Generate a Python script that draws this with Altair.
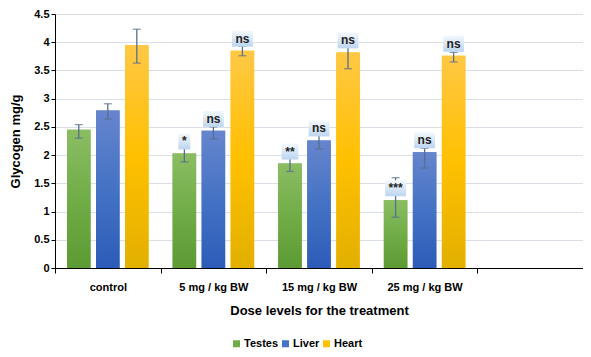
import altair as alt
import pandas as pd

categories = ["control", "5 mg / kg BW", "15 mg / kg BW", "25 mg / kg BW", " "]
series = ["Testes", "Liver", "Heart"]
testes = [2.45, 2.03, 1.85, 1.20]
liver = [2.79, 2.43, 2.26, 2.05]
heart = [3.95, 3.85, 3.82, 3.76]
testes_lo = [2.30, 1.88, 1.71, 0.90]
testes_hi = [2.54, 2.12, 1.95, 1.60]
liver_lo = [2.64, 2.29, 2.11, 1.77]
liver_hi = [2.91, 2.50, 2.36, 2.12]
heart_lo = [3.63, 3.76, 3.53, 3.65]
heart_hi = [4.23, 3.93, 4.05, 3.82]
sig_testes = ["", "*", "**", "***"]
sig_liver = ["", "ns", "ns", "ns"]
sig_heart = ["", "ns", "ns", "ns"]
y_ticks = [0, 0.5, 1, 1.5, 2, 2.5, 3, 3.5, 4, 4.5]

rows = []
for s, vals, lo, hi, sig in [
    ("Testes", testes, testes_lo, testes_hi, sig_testes),
    ("Liver", liver, liver_lo, liver_hi, sig_liver),
    ("Heart", heart, heart_lo, heart_hi, sig_heart),
]:
    for i, c in enumerate(categories[:4]):
        rows.append({"cat": c, "series": s, "value": vals[i], "lo": lo[i], "hi": hi[i], "sig": sig[i]})
df = pd.DataFrame(rows)

flat = ["#70ad47", "#4472c4", "#ffc000"]
grads = {
    "Testes": ["#8bbd63", "#70ad47", "#5c9a33"],
    "Liver": ["#6685cd", "#4472c4", "#2c5cb8"],
    "Heart": ["#ffc845", "#ffc000", "#e2b000"],
}

FONT = "Liberation Sans"

x = alt.X("cat:N", scale=alt.Scale(domain=categories, paddingInner=0, paddingOuter=0),
          axis=alt.Axis(title="Dose levels for the treatment", labelAngle=0, tickBand="extent",
                        labelFont=FONT, labelFontSize=11, labelFontWeight="bold", labelColor="black",
                        titleFont=FONT, titleFontSize=13, titleFontWeight="bold", titleColor="black",
                        titlePadding=12, labelPadding=8, tickSize=5, tickColor="black",
                        domainColor="black", grid=False))
xo = alt.XOffset("series:N", scale=alt.Scale(domain=series, paddingInner=0.19, paddingOuter=0.415))
yscale = alt.Scale(domain=[0, 4.5], nice=False)
yaxis = alt.Axis(title="Glycogen mg/g", values=y_ticks, format="~g",
                 labelOverlap=False, labelFlush=False,
                 labelFont=FONT, labelFontSize=11, labelFontWeight="bold", labelColor="black",
                 titleFont=FONT, titleFontSize=13, titleFontWeight="bold", titleColor="black",
                 titlePadding=11, tickSize=4, tickColor="black", domainColor="black",
                 gridColor="#dadee6", gridWidth=1)
y = alt.Y("value:Q", scale=yscale, axis=yaxis)
ylo = alt.Y("lo:Q", scale=yscale, axis=yaxis)
yhi = alt.Y("hi:Q", scale=yscale, axis=yaxis)

base = alt.Chart(df)

flat_bars = base.mark_bar().encode(
    x=x, xOffset=xo, y=y,
    color=alt.Color("series:N", scale=alt.Scale(domain=series, range=flat),
                    legend=alt.Legend(title=None, orient="none", legendX=176, legendY=324, direction="horizontal",
                                      symbolType="square", symbolSize=49, symbolStrokeWidth=0,
                                      labelFont=FONT, labelFontSize=11, labelFontWeight="bold", labelColor="black",
                                      columnPadding=1, labelOffset=2)),
)

layers = [flat_bars]
for s in series:
    g = grads[s]
    layers.append(
        base.transform_filter(alt.datum.series == s).mark_bar(
            color=alt.Gradient(gradient="linear", x1=0, x2=0, y1=0, y2=1,
                               stops=[alt.GradientStop(color=g[0], offset=0),
                                      alt.GradientStop(color=g[1], offset=0.5),
                                      alt.GradientStop(color=g[2], offset=1)])
        ).encode(x=x, xOffset=xo, y=y)
    )

ecol = "#5a6e8f"
rules = base.mark_rule(color=ecol, strokeWidth=1.3).encode(x=x, xOffset=xo, y=ylo, y2="hi:Q")
cap_lo = base.mark_tick(color=ecol, size=8, thickness=1.3).encode(x=x, xOffset=xo, y=ylo)
cap_hi = base.mark_tick(color=ecol, size=8, thickness=1.3).encode(x=x, xOffset=xo, y=yhi)
layers += [rules, cap_lo, cap_hi]

shape_domain = ["*", "**", "***", "ns"]
shape_range = [
    "M-0.75,-1L0.75,-1L0.75,1L-0.75,1Z",
    "M-1.05,-1L1.05,-1L1.05,1L-1.05,1Z",
    "M-1.3,-1L1.3,-1L1.3,1L-1.3,1Z",
    "M-1.3,-1L1.3,-1L1.3,1L-1.3,1Z",
]
sigdf = base.transform_filter(alt.datum.sig != "")
boxes = sigdf.mark_point(
    filled=True, opacity=1, size=256, yOffset=-12, strokeWidth=0,
    fill=alt.Gradient(gradient="linear", x1=0, x2=0, y1=0, y2=1,
                      stops=[alt.GradientStop(color="#f4f8fd", offset=0),
                             alt.GradientStop(color="#bcd5ef", offset=1)])
).encode(x=x, xOffset=xo, y=y,
         shape=alt.Shape("sig:N", scale=alt.Scale(domain=shape_domain, range=shape_range), legend=None))
texts = sigdf.mark_text(font=FONT, fontSize=12, fontWeight="bold", color="#222222", yOffset=-12, baseline="middle").encode(
    x=x, xOffset=xo, y=y, text="sig:N")
layers += [boxes, texts]

chart = alt.layer(*layers).properties(
    width=528, height=254,
    autosize=alt.AutoSizeParams(type="none"),
    padding={"left": 47, "top": 6, "right": 0, "bottom": 80},
).configure_view(stroke=None).configure_axisY(domain=True)

chart.save("out.html", embed_options={"renderer": "svg", "actions": False})
